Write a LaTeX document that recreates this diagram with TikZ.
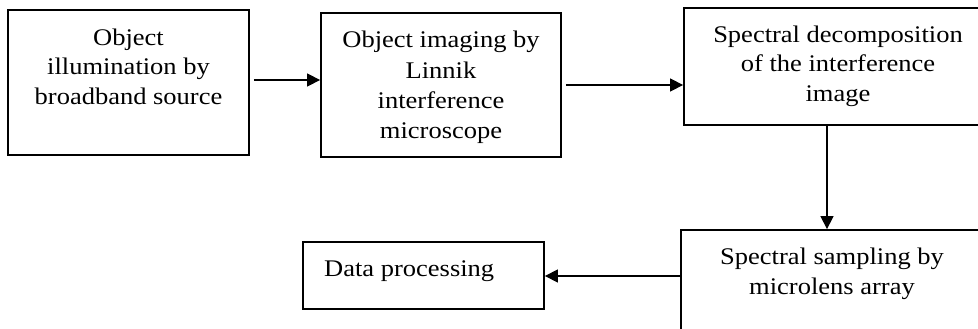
\documentclass[tikz,border=0pt]{standalone}
\usepackage{fontspec}
\setmainfont{Liberation Serif}
\usetikzlibrary{arrows.meta}

\tikzset{
  box/.style={draw, line width=1.8pt, rectangle, inner sep=0pt},
  txt/.style={inner sep=0pt, align=center, anchor=base, yscale=0.9, transform shape,
              font=\fontsize{26.5}{33}\selectfont},
  arr/.style={line width=1.3pt, -{Triangle[length=13pt,width=13pt]}}
}

\begin{document}
\begin{tikzpicture}[x=1pt, y=-1pt]
  \useasboundingbox (0,0) rectangle (978,329);
  \clip (0,0) rectangle (978,329);

  % process blocks
  \node[box, minimum width=241pt, minimum height=145pt] (b1) at (128.5,82.5) {};
  \node[box, minimum width=240pt, minimum height=144pt] (b2) at (441,85) {};
  \node[box, minimum width=306pt, minimum height=117pt] (b3) at (837,66.5) {};
  \node[box, minimum width=304pt, minimum height=115pt] (b5) at (833,287.5) {};
  \node[box, minimum width=241pt, minimum height=67pt] (b4) at (423.5,275.5) {};

  % block captions (anchored on the baseline of their last line)
  \node[txt] (t1) at (128.5,104.5) {Object\\illumination by\\broadband source};
  \node[txt, font=\fontsize{26.5}{33.8}\selectfont] (t2) at (441,139) {Object imaging by\\Linnik\\interference\\microscope};
  \node[txt] (t3) at (838,101.5) {Spectral decomposition\\of the interference\\image};
  \node[txt] (t5) at (832,294) {Spectral sampling by\\microlens array};
  \node[txt, anchor=base west] (t4) at (324,276.5) {Data processing};

  % flow connectors
  \draw[arr, shorten <=4pt] (b1.east |- 0,80) -- (b2.west |- 0,80);
  \draw[arr, shorten <=4pt] (b2.east |- 0,85) -- (b3.west |- 0,85);
  \draw[arr] (b3.south -| 827,0) -- (b5.north -| 827,0);
  \draw[arr] (b5.west |- 0,276) -- (b4.east |- 0,276);
\end{tikzpicture}
\end{document}
